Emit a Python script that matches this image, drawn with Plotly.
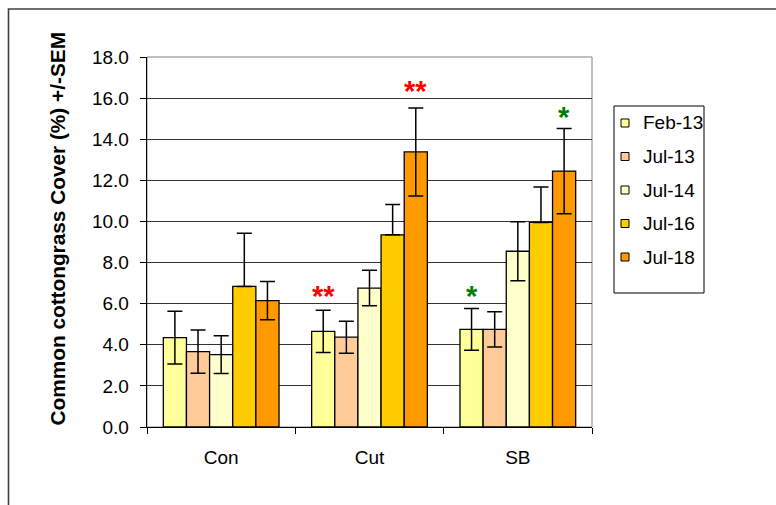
import plotly.graph_objects as go

categories = ["Con", "Cut", "SB"]
series_names = ["Feb-13", "Jul-13", "Jul-14", "Jul-16", "Jul-18"]
series_colors = ["#FFFF99", "#FFCC99", "#FFFFCC", "#FFCC00", "#FF9900"]

feb13 = [4.35, 4.65, 4.75]
jul13 = [3.67, 4.37, 4.75]
jul14 = [3.52, 6.76, 8.55]
jul16 = [6.84, 9.35, 9.95]
jul18 = [6.15, 13.38, 12.45]

feb13_sem = [1.28, 1.03, 1.02]
jul13_sem = [1.05, 0.78, 0.86]
jul14_sem = [0.92, 0.86, 1.44]
jul16_sem = [2.58, 1.47, 1.73]
jul18_sem = [0.93, 2.14, 2.07]

values = [feb13, jul13, jul14, jul16, jul18]
sems = [feb13_sem, jul13_sem, jul14_sem, jul16_sem, jul18_sem]
plus_only = [False, False, False, True, False]

# significance markers: (category, series, text, colour, y)
sig_cats = ["Cut", "Cut", "SB", "SB"]
sig_series = ["Feb-13", "Jul-18", "Feb-13", "Jul-18"]
sig_text = ["**", "**", "*", "*"]
sig_colors = ["#FF0000", "#FF0000", "#008000", "#008000"]
sig_y = [6.35, 16.35, 6.35, 15.1]

y_ticks = [0, 2, 4, 6, 8, 10, 12, 14, 16, 18]
y_labels = ["%.1f" % v for v in y_ticks]
y_title = "Common cottongrass Cover (%) +/-SEM"

FONT = "Arial, Liberation Sans, sans-serif"
W, H = 776, 505
L, R, T, B = 147, 592, 57, 427
BARGAP = 0.22

fig = go.Figure()
for name, col, vals, err, po in zip(series_names, series_colors, values, sems, plus_only):
    fig.add_trace(go.Bar(
        x=categories, y=vals, name=name,
        marker=dict(color=col, line=dict(color="#000000", width=1.3)),
        error_y=dict(type="data", array=err,
                     arrayminus=[0] * len(err) if po else err,
                     symmetric=False, color="#000000", thickness=1.5, width=7.5),
        showlegend=False,
    ))

# significance annotations
n = len(series_names)
group_w = 1 - BARGAP
annotations = []
for c, s, t, col, yv in zip(sig_cats, sig_series, sig_text, sig_colors, sig_y):
    i = series_names.index(s)
    xpos = categories.index(c) + (-0.5 + (i + 0.5) / n) * group_w
    annotations.append(dict(x=xpos, y=yv, xref="x", yref="y", text="<b>%s</b>" % t,
                            showarrow=False, font=dict(family=FONT, size=29, color=col),
                            xanchor="center", yanchor="middle"))

def px(xp):
    return (xp - L) / (R - L)

def py(yp):
    return (B - yp) / (B - T)

# y-axis title
annotations.append(dict(x=px(57), y=py(229.5), xref="paper", yref="paper", text="<b>%s</b>" % y_title,
                        textangle=-90, showarrow=False, xanchor="center", yanchor="middle",
                        font=dict(family=FONT, size=20.8, color="#000000")))

shapes = []
# plot area frame (gray top/right)
shapes.append(dict(type="rect", xref="paper", yref="paper", x0=0, x1=1, y0=0, y1=1,
                   line=dict(color="#808080", width=1), layer="below"))
# outer chart frame
shapes.append(dict(type="path", xref="paper", yref="paper",
                   path="M %f %f L %f %f L %f %f" % (px(8.5), py(520), px(8.5), py(9), px(790), py(9)),
                   line=dict(color="#404040", width=1.6)))
# manual legend
shapes.append(dict(type="rect", xref="paper", yref="paper", x0=px(614), x1=px(704), y0=py(293), y1=py(106),
                   line=dict(color="#000000", width=1), fillcolor="white"))
for k, (name, col) in enumerate(zip(series_names, series_colors)):
    cy = 123 + 33.5 * k
    shapes.append(dict(type="rect", xref="paper", yref="paper", x0=px(621), x1=px(629),
                       y0=py(cy + 4), y1=py(cy - 4), line=dict(color="#000000", width=1), fillcolor=col))
    annotations.append(dict(x=px(641), y=py(cy), xref="paper", yref="paper", text=name, showarrow=False,
                            xanchor="left", yanchor="middle", font=dict(family=FONT, size=19, color="#000000")))

fig.update_layout(
    width=W, height=H,
    margin=dict(l=L, r=W - R, t=T, b=H - B, pad=0),
    paper_bgcolor="white", plot_bgcolor="white",
    barmode="group", bargap=BARGAP, bargroupgap=0,
    font=dict(family=FONT, size=19, color="#000000"),
    showlegend=False,
    shapes=shapes, annotations=annotations,
    xaxis=dict(type="category", range=[-0.5, 2.5], showline=True, linecolor="#000000", linewidth=1.3,
               ticks="outside", ticklen=6, tickcolor="#000000", tickwidth=1, tickson="boundaries",
               showgrid=False, tickfont=dict(family=FONT, size=19), ticklabelstandoff=13),
    yaxis=dict(range=[0, 18], tickvals=y_ticks, ticktext=y_labels, showline=True,
               linecolor="#000000", linewidth=1.3, ticks="outside", ticklen=6, tickcolor="#000000",
               showgrid=True, gridcolor="#333333", gridwidth=1, zeroline=False,
               tickfont=dict(family=FONT, size=19), ticklabelstandoff=7),
)

fig.write_html("out.html", config={"displayModeBar": False, "staticPlot": True},
               post_script="document.body.style.margin='0';document.body.style.padding='0';")
